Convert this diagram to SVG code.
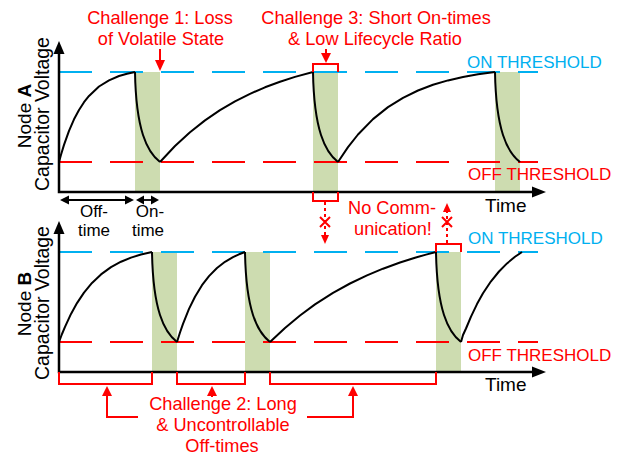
<svg xmlns="http://www.w3.org/2000/svg" width="627" height="455" viewBox="0 0 627 455">
<style>
text{font-family:"Liberation Sans",Arial,sans-serif;font-size:19px}
.ml{font-size:18.2px}
.red{fill:#ff0000}
.blue{fill:#00b0f0}
.blk{fill:#000}
.band{fill:#cddcb0}
.on{stroke:#00b0f0;stroke-width:2;stroke-dasharray:33 18;fill:none}
.off{stroke:#ff0000;stroke-width:2;stroke-dasharray:33 18;fill:none}
.curve{stroke:#000;stroke-width:2;fill:none;stroke-linejoin:round}
.axis{stroke:#000;stroke-width:2.5;fill:none}
.rl{stroke:#ff0000;stroke-width:2;fill:none}
.dot{stroke:#ff0000;stroke-width:2;fill:none;stroke-dasharray:3 3}
.ar{stroke:#000;stroke-width:1.8;fill:none}
</style>
<g id="plotA">
<rect class="band" x="135" y="72" width="25" height="120"/>
<rect class="band" x="313" y="72" width="25" height="120"/>
<rect class="band" x="495" y="72" width="25" height="120"/>
<line class="on" x1="59" y1="72" x2="538" y2="72"/>
<line class="off" x1="59" y1="162" x2="538" y2="162"/>
<path class="curve" d="M59,162 L61,154.7 L64,144.9 L69,130.8 L74,119.3 L79,110 L84,102.2 L89,95.9 L99,86.5 L109,80.3 L119,76 L127,73.7 L135,72"/>
<path class="curve" d="M135,72 C136,130 147,152 160,162"/>
<path class="curve" d="M160,162 L175,146 L190,132.2 L205,120.4 L220,110.2 L235,101.4 L250,93.8 L265,87.3 L280,81.7 L295,76.9 L313,72"/>
<path class="curve" d="M313,72 C314,130 325,152 338,162"/>
<path class="curve" d="M338,162 L348,147.1 L358,134.5 L373,119.1 L388,107.1 L403,97.8 L418,90.5 L433,84.8 L448,80.4 L463,77 L478,74.3 L495,72"/>
<path class="curve" d="M495,72 C496,130 507,152 520,162"/>
<path class="axis" d="M59,52 V192 H533"/>
<polygon class="blk" points="59,41 53.5,54 64.5,54"/>
<polygon class="blk" points="546,192 532,186.5 532,197.5"/>
<text class="blk" transform="translate(31,116) rotate(-90)" text-anchor="middle">Node <tspan font-weight="bold">A</tspan></text>
<text class="blk" transform="translate(49,114) rotate(-90)" text-anchor="middle" style="font-size:19.5px">Capacitor Voltage</text>
<text class="blue" x="467" y="68" style="font-size:17px">ON THRESHOLD</text>
<text class="red" x="468" y="180" style="font-size:17px">OFF THRESHOLD</text>
<text class="blk" x="485" y="212">Time</text>
</g>
<g id="plotB">
<rect class="band" x="152" y="252" width="25" height="120"/>
<rect class="band" x="245" y="252" width="25" height="120"/>
<rect class="band" x="436" y="252" width="25" height="120"/>
<line class="on" x1="59" y1="252" x2="538" y2="252"/>
<line class="off" x1="59" y1="342" x2="538" y2="342"/>
<path class="curve" d="M59,342 L62,334 L65,326.8 L71,313.9 L77,303.1 L84,292.6 L92,282.9 L101,274.4 L111,267.1 L121,261.7 L131,257.6 L141,254.5 L152,252"/>
<path class="curve" d="M152,252 C153,310 164,332 177,342"/>
<path class="curve" d="M177,342 L180,332.5 L183,323.8 L189,308.9 L195,296.7 L202,285.2 L209,276.1 L217,268 L225,261.8 L233,257.1 L239,254.3 L245,252"/>
<path class="curve" d="M245,252 C246,310 257,332 270,342"/>
<path class="curve" d="M270,342 L285,327.9 L300,315.5 L315,304.4 L333,292.9 L350,283.5 L367,275.4 L383,268.7 L400,262.5 L415,257.7 L426,254.6 L436,252"/>
<path class="curve" d="M436,252 C437,310 448,332 461,342"/>
<path class="curve" d="M461,342 L463,335 L466,328.5 L471,316.6 L477,304.1 L483,293.3 L491,281.3 L499,271.5 L507,263.4 L515,256.8 L522,252"/>
<path class="axis" d="M59,232 V372 H533"/>
<polygon class="blk" points="59,221 53.5,234 64.5,234"/>
<polygon class="blk" points="546,372 532,366.5 532,377.5"/>
<text class="blk" transform="translate(31,304) rotate(-90)" text-anchor="middle">Node <tspan font-weight="bold">B</tspan></text>
<text class="blk" transform="translate(49,303) rotate(-90)" text-anchor="middle" style="font-size:19.5px">Capacitor Voltage</text>
<text class="blue" x="468" y="244" style="font-size:17px">ON THRESHOLD</text>
<text class="red" x="468" y="361" style="font-size:17px">OFF THRESHOLD</text>
<text class="blk" x="485" y="391">Time</text>
</g>
<g id="timeLabels">
<line class="ar" x1="63" y1="200" x2="131" y2="200"/>
<polygon class="blk" points="60,200 69,195.5 69,204.5"/>
<polygon class="blk" points="134,200 125,195.5 125,204.5"/>
<line class="ar" x1="139" y1="200" x2="156" y2="200"/>
<polygon class="blk" points="136,200 144,195.5 144,204.5"/>
<polygon class="blk" points="159,200 151,195.5 151,204.5"/>
<text class="blk" text-anchor="middle" style="font-size:17px"><tspan x="94" y="217">Off-</tspan><tspan x="94" y="236">time</tspan></text>
<text class="blk" text-anchor="middle" style="font-size:17px"><tspan x="150" y="217">On-</tspan><tspan x="148" y="236">time</tspan></text>
</g>
<g id="challenge1">
<text class="red ml" text-anchor="middle"><tspan x="160" y="24">Challenge 1: Loss</tspan><tspan x="161" y="45">of Volatile State</tspan></text>
<line class="rl" x1="160" y1="49" x2="160" y2="62"/>
<polygon class="red" points="160,71 155,60 165,60"/>
</g>
<g id="challenge3">
<text class="red ml" text-anchor="middle"><tspan x="376" y="24">Challenge 3: Short On-times</tspan><tspan x="375" y="45">&amp; Low Lifecycle Ratio</tspan></text>
<line class="rl" x1="326" y1="49" x2="326" y2="55"/>
<polygon class="red" points="326,63 321,53 331,53"/>
<path class="rl" d="M313,72 V64 H338 V72"/>
<path class="rl" d="M313,192 V201 H338 V192"/>
</g>
<g id="noComm">
<line class="dot" x1="325" y1="202" x2="325" y2="236"/>
<polygon class="red" points="325,244 321,235 329,235"/>
<path class="rl" d="M320,217 L330,227 M330,217 L320,227"/>
<path class="rl" d="M436,252 V244 H461 V252"/>
<line class="dot" x1="447" y1="243" x2="447" y2="211"/>
<polygon class="red" points="447,203 443,212 451,212"/>
<path class="rl" d="M442,217 L452,227 M452,217 L442,227"/>
<text class="red ml" text-anchor="middle"><tspan x="392" y="214">No Comm-</tspan><tspan x="393" y="235">unication!</tspan></text>
</g>
<g id="challenge2">
<path class="rl" d="M59,372 V384 H152 V372"/>
<path class="rl" d="M177,372 V384 H245 V372"/>
<path class="rl" d="M270,372 V384 H436 V372"/>
<path class="rl" d="M138,417 H107 V394"/>
<polygon class="red" points="107,386 102,396 112,396"/>
<line class="rl" x1="212" y1="394" x2="212" y2="397"/>
<polygon class="red" points="212,386 207,396 217,396"/>
<path class="rl" d="M307,417 H353 V394"/>
<polygon class="red" points="353,386 348,396 358,396"/>
<text class="red ml" text-anchor="middle"><tspan x="223" y="410">Challenge 2: Long</tspan><tspan x="223" y="431">&amp; Uncontrollable</tspan><tspan x="222" y="452">Off-times</tspan></text>
</g>
</svg>
